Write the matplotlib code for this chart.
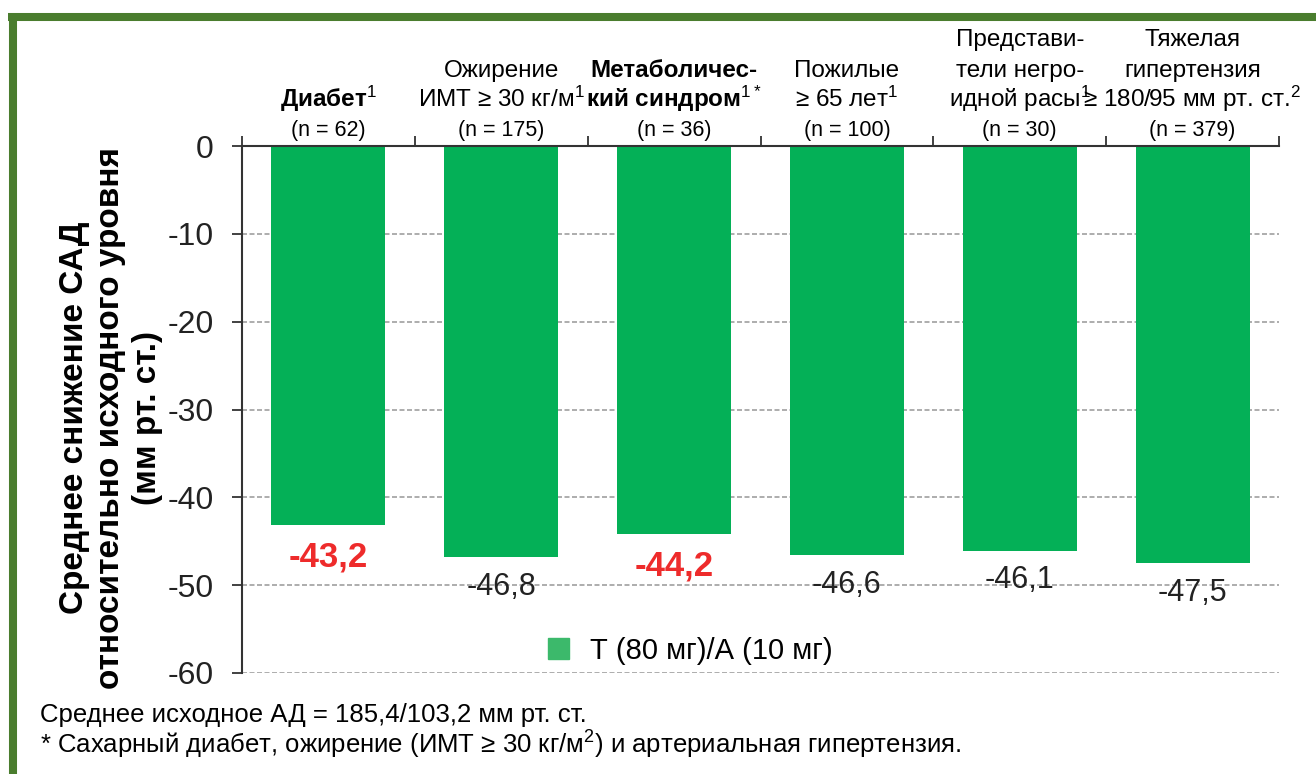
import numpy as np
import matplotlib
matplotlib.use("Agg")
import matplotlib.pyplot as plt
from matplotlib.lines import Line2D
from matplotlib.patches import Patch

plt.rcParams['font.family'] = ['Liberation Sans', 'DejaVu Sans']
plt.rcParams['mathtext.fontset'] = 'custom'
plt.rcParams['mathtext.rm'] = 'Liberation Sans'
plt.rcParams['mathtext.it'] = 'Liberation Sans'
plt.rcParams['mathtext.bf'] = 'Liberation Sans:bold'
plt.rcParams['axes.unicode_minus'] = False

# data
groups = ['Диабет$^{1}$',
          'Ожирение\nИМТ ≥ 30 кг/м$^{1}$',
          'Метаболичес-\nкий синдром$^{1*}$',
          'Пожилые\n≥ 65 лет$^{1}$',
          'Представи-\nтели негро-\nидной расы$^{1}$',
          'Тяжелая\nгипертензия\n≥ 180/95 мм рт. ст.$^{2}$']
n_labels = ['(n = 62)', '(n = 175)', '(n = 36)', '(n = 100)', '(n = 30)', '(n = 379)']
values = [-43.2, -46.8, -44.2, -46.6, -46.1, -47.5]
highlight = [True, False, True, False, False, False]
yticks = [0, -10, -20, -30, -40, -50, -60]
legend_label = 'Т (80 мг)/А (10 мг)'
ylabel = 'Среднее снижение САД\nотносительно исходного уровня\n(мм рт. ст.)'
notes = ['Среднее исходное АД = 185,4/103,2 мм рт. ст.',
         '* Сахарный диабет, ожирение (ИМТ ≥ 30 кг/м$^{2}$) и артериальная гипертензия.']

W, H = 1316, 774
fig = plt.figure(figsize=(W / 100, H / 100), dpi=100)
ax = fig.add_axes([242 / W, 1 - 673 / H, (1279 - 242) / W, (673 - 146) / H])

x = np.arange(len(values)) + 0.5
ax.bar(x, values, width=0.66, color='#04b057', zorder=2)

ax.set_xlim(0, len(values))
ax.set_ylim(-60, 0)
ax.set_yticks(yticks)
ax.set_yticklabels([str(t) for t in yticks])
ax.xaxis.tick_top()
ax.set_xticks(np.arange(len(values) + 1))
ax.set_xticklabels([])
ax.tick_params(axis='x', direction='out', length=7, width=1.3, color='#333333')
ax.tick_params(axis='y', direction='out', length=7.5, width=1.3, color='#333333',
               labelsize=23, pad=13, labelcolor='#222222')
for s in ['right', 'bottom']:
    ax.spines[s].set_visible(False)
for s in ['top', 'left']:
    ax.spines[s].set_color('#333333')
    ax.spines[s].set_linewidth(1.5)
ax.yaxis.grid(True, linestyle=(0, (3, 1.5)), color='#a0a0a0', linewidth=1.2, zorder=0)
ax.set_axisbelow(True)

# value labels under bars
for xi, v, hl in zip(x, values, highlight):
    txt = f'{v:.1f}'.replace('.', ',')
    if hl:
        ax.annotate(txt, (xi, v), xytext=(0, -11), textcoords='offset points',
                    ha='center', va='top', fontsize=25, fontweight='bold', color='#ee2b2b')
    else:
        ax.annotate(txt, (xi, v), xytext=(0, -10.5), textcoords='offset points',
                    ha='center', va='top', fontsize=22, color='#222222')

# group headers above the axis, one line at a time
for xi, g, n, hl in zip(x, groups, n_labels, highlight):
    ax.annotate(n, xy=(xi, 1), xycoords=('data', 'axes fraction'), xytext=(0, 7),
                textcoords='offset points', ha='center', va='baseline', fontsize=15.5)
    for k, line in enumerate(reversed(g.split('\n'))):
        ax.annotate(line, xy=(xi, 1), xycoords=('data', 'axes fraction'),
                    xytext=(0, 28 + 22 * k), textcoords='offset points',
                    ha='center', va='baseline', fontsize=17.5,
                    fontweight='bold' if hl else 'normal')

ax.legend(handles=[Patch(color='#3cb96b')], labels=[legend_label],
          loc='center left', bbox_to_anchor=(548 / W, 1 - 651 / H),
          bbox_transform=fig.transFigure, frameon=False, fontsize=21,
          handlelength=0.72, handleheight=0.72, handletextpad=0.72,
          borderpad=0, borderaxespad=0)

fig.text(111 / W, 1 - 418 / H, ylabel, rotation=90, ha='center', va='center',
         fontsize=24, fontweight='bold', linespacing=1.22, multialignment='center')

fig.text(40 / W, 1 - 715 / H, notes[0], ha='left', va='center', fontsize=18.5)
fig.text(40 / W, 1 - 745 / H, notes[1], ha='left', va='center', fontsize=18.5)

# green frame
frame = '#4a7d2e'
fig.add_artist(Line2D([8 / W, 1], [1 - 16.5 / H] * 2, lw=5.8, color=frame,
                      transform=fig.transFigure, solid_capstyle='butt'))
fig.add_artist(Line2D([12.5 / W] * 2, [1 - 13 / H, 0], lw=5.8, color=frame,
                      transform=fig.transFigure, solid_capstyle='butt'))

fig.savefig('out.png', dpi=100)
